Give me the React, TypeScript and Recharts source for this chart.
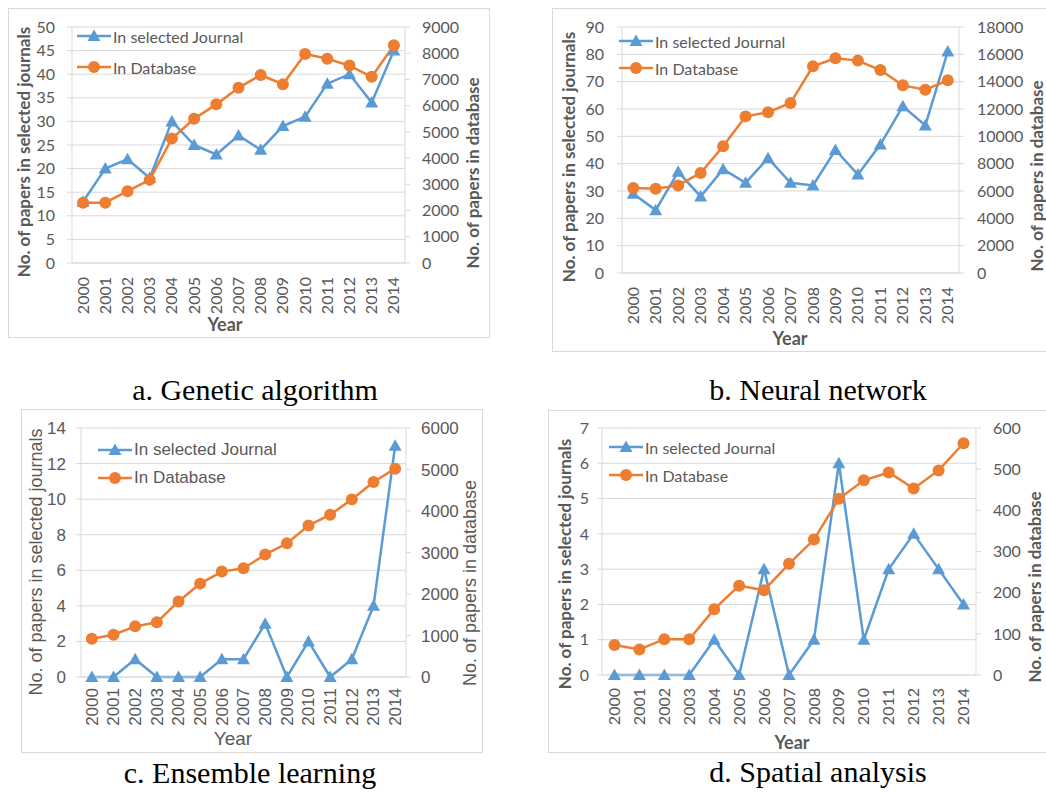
import { CartesianGrid, Legend, Line, LineChart, XAxis, YAxis } from "recharts"

const years = ["2000", "2001", "2002", "2003", "2004", "2005", "2006", "2007", "2008", "2009", "2010", "2011", "2012", "2013", "2014"]

// a. Genetic algorithm
const gaJournal = [13, 20, 22, 18, 30, 25, 23, 27, 24, 29, 31, 38, 40, 34, 45]
const gaDatabase = [2300, 2300, 2740, 3170, 4750, 5500, 6050, 6680, 7170, 6820, 7970, 7790, 7530, 7100, 8300]
const gaJournalTicks = [0, 5, 10, 15, 20, 25, 30, 35, 40, 45, 50]
const gaDatabaseTicks = [0, 1000, 2000, 3000, 4000, 5000, 6000, 7000, 8000, 9000]

// b. Neural network
const nnJournal = [29, 23, 37, 28, 38, 33, 42, 33, 32, 45, 36, 47, 61, 54, 81]
const nnDatabase = [6220, 6170, 6410, 7320, 9270, 11460, 11760, 12440, 15120, 15710, 15540, 14850, 13730, 13410, 14100]
const nnJournalTicks = [0, 10, 20, 30, 40, 50, 60, 70, 80, 90]
const nnDatabaseTicks = [0, 2000, 4000, 6000, 8000, 10000, 12000, 14000, 16000, 18000]

// c. Ensemble learning
const elJournal = [0, 0, 1, 0, 0, 0, 1, 1, 3, 0, 2, 0, 1, 4, 13]
const elDatabase = [920, 1020, 1220, 1320, 1820, 2250, 2540, 2620, 2950, 3220, 3650, 3910, 4280, 4700, 5020]
const elJournalTicks = [0, 2, 4, 6, 8, 10, 12, 14]
const elDatabaseTicks = [0, 1000, 2000, 3000, 4000, 5000, 6000]

// d. Spatial analysis
const saJournal = [0, 0, 0, 0, 1, 0, 3, 0, 1, 6, 1, 3, 4, 3, 2]
const saDatabase = [73, 62, 87, 87, 160, 217, 206, 270, 329, 428, 473, 492, 453, 497, 563]
const saJournalTicks = [0, 1, 2, 3, 4, 5, 6, 7]
const saDatabaseTicks = [0, 100, 200, 300, 400, 500, 600]

const BLUE = "#5B9BD5"
const ORANGE = "#ED7D31"
const GREY = "#595959"
const GRID = "#D9D9D9"

type Box = { left: number; top: number; right: number; bottom: number }

type PanelProps = {
  journal: number[]
  database: number[]
  journalTicks: number[]
  databaseTicks: number[]
  frame: Box
  plot: Box
  font: string
  size: number
  titleSize: number
  titleWeight: number
  leftLabelRight: number
  rightLabelLeft: number
  yearTop: number
  leftTitle: [number, number]
  rightTitle: [number, number]
  yearTitle: [number, number]
  legendX: number
  legendY: number
  legendGap: number
  caption: string
  captionAt: [number, number]
}

function TriangleDot(props: any) {
  const { cx, cy } = props
  if (cx == null || cy == null) return null
  return <polygon points={`${cx},${cy - 6.5} ${cx + 6.5},${cy + 5} ${cx - 6.5},${cy + 5}`} fill={BLUE} />
}

function YearTick(props: any) {
  const { x, y, payload, font, size } = props
  return (
    <text
      x={x}
      y={y}
      transform={`rotate(-90 ${x} ${y})`}
      textAnchor="end"
      dy="0.35em"
      fill={GREY}
      fontFamily={font}
      fontSize={size}
    >
      {payload.value}
    </text>
  )
}

function LegendRows({ font, size, gap }: { font: string; size: number; gap: number }) {
  const rows: [string, string, boolean][] = [
    ["In selected Journal", BLUE, true],
    ["In Database", ORANGE, false],
  ]
  return (
    <div style={{ fontFamily: font, fontSize: size, color: GREY, whiteSpace: "nowrap" }}>
      {rows.map(([name, color, tri]) => (
        <div key={name} style={{ display: "flex", alignItems: "center", height: gap }}>
          <svg width={34} height={14} style={{ display: "block" }}>
            <line x1={0} y1={7} x2={34} y2={7} stroke={color} strokeWidth={2.5} />
            {tri ? (
              <polygon points="17,0.5 23.5,12 10.5,12" fill={color} />
            ) : (
              <circle cx={17} cy={7} r={6} fill={color} />
            )}
          </svg>
          <span style={{ marginLeft: 2 }}>{name}</span>
        </div>
      ))}
    </div>
  )
}

function VerticalTitle({ at, text, font, size, weight }: { at: [number, number]; text: string; font: string; size: number; weight: number }) {
  return (
    <div
      style={{
        position: "absolute",
        left: at[0],
        top: at[1],
        transform: "translate(-50%, -50%) rotate(-90deg)",
        whiteSpace: "nowrap",
        fontFamily: font,
        fontSize: size,
        fontWeight: weight,
        color: GREY,
        lineHeight: 1,
      }}
    >
      {text}
    </div>
  )
}

function Panel(p: PanelProps) {
  const data = years.map((year, i) => ({ year, journal: p.journal[i], database: p.database[i] }))
  const w = p.frame.right - p.frame.left
  const h = p.frame.bottom - p.frame.top
  // half a category band on each side so the years sit in the middle of their slots
  const half = (p.plot.right - p.plot.left) / years.length / 2
  const tickText = { fill: GREY, fontFamily: p.font, fontSize: p.size }

  return (
    <>
      <div
        style={{
          position: "absolute",
          left: p.frame.left,
          top: p.frame.top,
          width: w,
          height: h,
          border: `1px solid ${GRID}`,
          boxSizing: "border-box",
        }}
      />
      <div style={{ position: "absolute", left: p.frame.left, top: p.frame.top }}>
        <LineChart width={w} height={h} data={data} margin={{ top: p.plot.top - p.frame.top, right: 0, bottom: 0, left: 0 }}>
          <CartesianGrid vertical={false} stroke={GRID} yAxisId="journal" />
          <XAxis
            dataKey="year"
            height={p.frame.bottom - p.plot.bottom}
            padding={{ left: half, right: half }}
            axisLine={{ stroke: GRID }}
            tickLine={false}
            tickSize={0}
            tickMargin={p.yearTop - p.plot.bottom}
            interval={0}
            tick={<YearTick font={p.font} size={p.size} />}
          />
          <YAxis
            yAxisId="journal"
            orientation="left"
            width={p.plot.left - p.frame.left}
            domain={[0, p.journalTicks[p.journalTicks.length - 1]]}
            ticks={p.journalTicks}
            interval={0}
            axisLine={{ stroke: GRID }}
            tickLine={{ stroke: GRID }}
            tickSize={5}
            tickMargin={p.plot.left - 5 - p.leftLabelRight}
            tick={tickText}
          />
          <YAxis
            yAxisId="database"
            orientation="right"
            width={p.frame.right - p.plot.right}
            domain={[0, p.databaseTicks[p.databaseTicks.length - 1]]}
            ticks={p.databaseTicks}
            interval={0}
            axisLine={{ stroke: GRID }}
            tickLine={{ stroke: GRID }}
            tickSize={5}
            tickMargin={p.rightLabelLeft - p.plot.right - 5}
            tick={tickText}
          />
          <Legend
            layout="vertical"
            align="center"
            verticalAlign="middle"
            wrapperStyle={{
              left: p.legendX - p.frame.left,
              top: p.legendY - p.frame.top - p.legendGap / 2,
              width: 260,
              height: "auto",
            }}
            content={() => <LegendRows font={p.font} size={p.size} gap={p.legendGap} />}
          />
          <Line
            yAxisId="journal"
            dataKey="journal"
            stroke={BLUE}
            strokeWidth={2.5}
            dot={<TriangleDot />}
            activeDot={false}
            isAnimationActive={false}
          />
          <Line
            yAxisId="database"
            dataKey="database"
            stroke={ORANGE}
            strokeWidth={2.5}
            dot={{ r: 6, fill: ORANGE, stroke: ORANGE, strokeWidth: 0 }}
            activeDot={false}
            isAnimationActive={false}
          />
        </LineChart>
      </div>
      <VerticalTitle at={p.leftTitle} text="No. of papers in selected journals" font={p.font} size={p.titleSize} weight={p.titleWeight} />
      <VerticalTitle at={p.rightTitle} text="No. of papers in database" font={p.font} size={p.titleSize} weight={p.titleWeight} />
      <div
        style={{
          position: "absolute",
          left: p.yearTitle[0],
          top: p.yearTitle[1],
          transform: "translate(-50%, -50%)",
          fontFamily: p.font,
          fontSize: p.titleSize + 1,
          fontWeight: p.titleWeight,
          color: GREY,
          lineHeight: 1,
        }}
      >
        Year
      </div>
      <div
        style={{
          position: "absolute",
          left: p.captionAt[0],
          top: p.captionAt[1],
          transform: "translate(-50%, -50%)",
          fontFamily: "'Liberation Serif', serif",
          fontSize: 30,
          color: "#000",
          whiteSpace: "nowrap",
          lineHeight: 1,
        }}
      >
        {p.caption}
      </div>
    </>
  )
}

const CALIBRI = "Lato, 'Open Sans', sans-serif"
const ARIAL = "'Liberation Sans', Arial, sans-serif"

export default function App() {
  return (
    <div style={{ position: "absolute", left: 0, top: 0, width: 1046, height: 792, background: "#fff", overflow: "hidden" }}>
      <Panel
        journal={gaJournal}
        database={gaDatabase}
        journalTicks={gaJournalTicks}
        databaseTicks={gaDatabaseTicks}
        frame={{ left: 8, top: 8, right: 490, bottom: 338 }}
        plot={{ left: 72, top: 27, right: 405, bottom: 263 }}
        font={CALIBRI}
        size={16}
        titleSize={17}
        titleWeight={700}
        leftLabelRight={55}
        rightLabelLeft={422}
        yearTop={277}
        leftTitle={[23, 152]}
        rightTitle={[472, 173]}
        yearTitle={[225, 324]}
        legendX={77}
        legendY={36}
        legendGap={31}
        caption="a. Genetic algorithm"
        captionAt={[255, 390]}
      />
      <Panel
        journal={nnJournal}
        database={nnDatabase}
        journalTicks={nnJournalTicks}
        databaseTicks={nnDatabaseTicks}
        frame={{ left: 552, top: 8, right: 1056, bottom: 352 }}
        plot={{ left: 622, top: 27, right: 959, bottom: 273 }}
        font={CALIBRI}
        size={16}
        titleSize={17}
        titleWeight={700}
        leftLabelRight={604}
        rightLabelLeft={977}
        yearTop={287}
        leftTitle={[568, 157]}
        rightTitle={[1036, 176]}
        yearTitle={[790, 338]}
        legendX={619}
        legendY={41}
        legendGap={27}
        caption="b. Neural network"
        captionAt={[818, 390]}
      />
      <Panel
        journal={elJournal}
        database={elDatabase}
        journalTicks={elJournalTicks}
        databaseTicks={elDatabaseTicks}
        frame={{ left: 21, top: 409, right: 483, bottom: 753 }}
        plot={{ left: 81, top: 428, right: 406, bottom: 677 }}
        font={ARIAL}
        size={17}
        titleSize={18}
        titleWeight={400}
        leftLabelRight={66}
        rightLabelLeft={421}
        yearTop={688}
        leftTitle={[36, 562]}
        rightTitle={[470, 583]}
        yearTitle={[233, 738]}
        legendX={98}
        legendY={450}
        legendGap={28}
        caption="c. Ensemble learning"
        captionAt={[250, 773]}
      />
      <Panel
        journal={saJournal}
        database={saDatabase}
        journalTicks={saJournalTicks}
        databaseTicks={saDatabaseTicks}
        frame={{ left: 548, top: 410, right: 1056, bottom: 753 }}
        plot={{ left: 602, top: 428, right: 976, bottom: 675 }}
        font={CALIBRI}
        size={16}
        titleSize={17}
        titleWeight={700}
        leftLabelRight={589}
        rightLabelLeft={993}
        yearTop={688}
        leftTitle={[564, 564]}
        rightTitle={[1034, 587]}
        yearTitle={[792, 742]}
        legendX={609}
        legendY={447}
        legendGap={28}
        caption="d. Spatial analysis"
        captionAt={[818, 772]}
      />
    </div>
  )
}
